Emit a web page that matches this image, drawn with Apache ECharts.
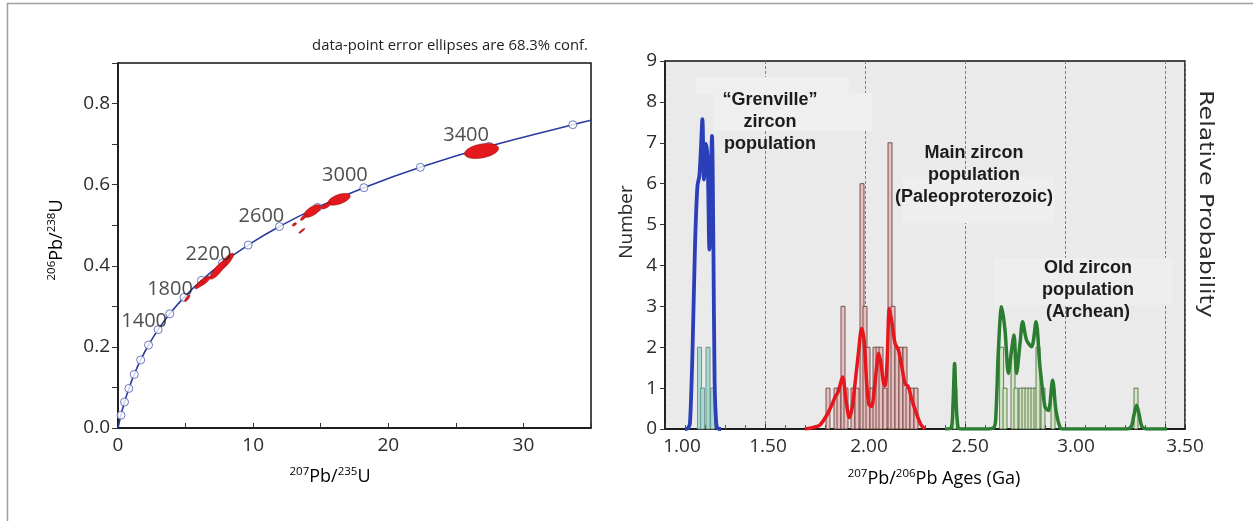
<!DOCTYPE html>
<html><head><meta charset="utf-8">
<script src="https://cdn.jsdelivr.net/npm/echarts@6/dist/echarts.min.js"></script>
<style>html,body{margin:0;padding:0;background:#fff}#c{width:1253px;height:521px}</style>
</head><body><div id="c"></div><script>
// ---------- Left panel: concordia diagram ----------
const concordiaAges = [0,200,400,600,800,1000,1200,1400,1600,1800,2000,2200,2400,2600,2800,3000,3200,3400,3600,3640];
const concordiaX = [0,0.2177,0.4828,0.8056,1.1989,1.6774,2.2603,2.9702,3.8347,4.8878,6.1683,7.7292,9.6300,11.945,14.764,18.196,22.374,27.459,33.651,35.0];
const concordiaY = [0,0.0315,0.0640,0.0975,0.1321,0.1678,0.2046,0.2426,0.2817,0.3221,0.3638,0.4068,0.4511,0.4968,0.5440,0.5926,0.6428,0.6945,0.7479,0.7587];
const labelledAges = [1400,1800,2200,2600,3000,3400];

// error ellipses: centre x, centre y, sigma x, sigma y, correlation
const ellipseX   = [26.9, 16.36, 15.4, 14.39, 13.75, 13.05, 13.6, 8.0, 7.4, 6.32, 6.0, 5.13];
const ellipseY   = [0.683, 0.564, 0.548, 0.535, 0.520, 0.502, 0.486, 0.410, 0.390, 0.361, 0.353, 0.320];
const ellipseSX  = [1.26, 0.82, 0.35, 0.63, 0.25, 0.15, 0.22, 0.55, 0.60, 0.50, 0.30, 0.20];
const ellipseSY  = [0.0185, 0.0145, 0.008, 0.0155, 0.008, 0.004, 0.006, 0.021, 0.023, 0.013, 0.010, 0.008];
const ellipseRho = [0.35, 0.55, 0.7, 0.65, 0.8, 0.5, 0.9, 0.85, 0.85, 0.8, 0.8, 0.8];

// ---------- Right panel: age histogram + probability curves ----------
const grenvilleBins = [1.1725, 1.188, 1.215, 1.238];
const grenvilleCounts = [2, 1, 2, 1];
const mainBins = [1.815,1.855,1.87,1.89,1.905,1.94,1.96,1.985,2.0,2.015,2.035,2.05,2.065,2.08,2.1,2.125,2.14,2.16,2.18,2.2,2.215,2.235,2.255];
const mainCounts = [1,1,1,3,1,1,1,6,3,2,1,2,2,2,1,7,3,2,2,2,1,1,1];
const oldBins = [2.449,2.683,2.70,2.74,2.755,2.78,2.795,2.81,2.825,2.84,2.855,2.865,2.89,2.94,3.355];
const oldCounts = [1,2,1,2,1,1,1,1,1,1,1,2,1,1,1];

const blueX = [1.10,1.115,1.125,1.138,1.15,1.162,1.172,1.18,1.187,1.195,1.205,1.213,1.222,1.228,1.235,1.242,1.248,1.256,1.265,1.28];
const blueY = [0,0.02,0.15,2.0,4.47,5.94,6.2,6.9,7.58,6.1,6.97,6.6,4.39,5.94,7.17,4.47,1.19,0.15,0.01,0];
const redX = [1.70,1.75,1.775,1.808,1.835,1.85,1.865,1.888,1.905,1.922,1.935,1.95,1.968,1.983,1.995,2.01,2.02,2.033,2.045,2.058,2.068,2.08,2.09,2.1,2.11,2.122,2.135,2.15,2.167,2.185,2.2,2.217,2.235,2.258,2.28,2.3];
const redY = [0,0.05,0.1,0.33,0.6,0.78,0.9,1.27,0.7,0.28,0.5,1.1,1.9,2.46,2.2,1.0,0.6,0.55,0.9,1.5,1.85,1.6,1.2,1.05,1.6,2.95,2.6,2.1,1.93,1.5,1.11,1.03,0.7,0.37,0.1,0];
const greenX = [2.40,2.43,2.44,2.448,2.456,2.466,2.48,2.60,2.645,2.655,2.667,2.683,2.70,2.717,2.733,2.745,2.758,2.775,2.788,2.808,2.833,2.855,2.875,2.9,2.917,2.938,2.955,2.975,2.99,3.30,3.33,3.345,3.358,3.371,3.386,3.42,3.51];
const greenY = [0,0.02,0.6,1.6,0.6,0.02,0,0,0.04,0.4,1.93,2.99,2.42,1.36,1.93,2.3,1.36,2.09,2.62,2.17,2.01,2.62,1.52,0.54,0.45,1.19,0.45,0.04,0,0,0.05,0.35,0.58,0.35,0.05,0,0];

const xTicksRight = [1.0, 1.5, 2.0, 2.5, 3.0, 3.5];

// label placement (style, not data)
const ageLabelOffsets = [[-14,-8],[-14,-8],[-14,-9],[-18,-10],[-19,-12],[-23,-11]];
const xLabelShiftPx = [17, 3, 4, 5, 11, 20];   // hand-placed tick labels in the original figure

// ---------- build ----------
const zip = (a, b) => a.map((v, i) => [v, b[i]]);
const concordia = zip(concordiaX, concordiaY);
const markers = concordia.filter((p, i) => concordiaAges[i] > 0 && concordiaAges[i] % 200 === 0);
const ageLabels = labelledAges.map((a, k) => {
  const i = concordiaAges.indexOf(a);
  return { value: [concordiaX[i], concordiaY[i]], name: String(a), label: { offset: ageLabelOffsets[k] } };
});
const ellipses = ellipseX.map((v, i) => [v, ellipseY[i], ellipseSX[i], ellipseSY[i], ellipseRho[i]]);

const TXT = '#2b2b2b';
const FONT = "'Open Sans', 'Noto Sans', sans-serif";
const BAR_W = 0.02;

const xLabelRich = {};
xLabelShiftPx.forEach((s, i) => { xLabelRich['p' + i] = { padding: [0, 0, 0, 2 * s], fontSize: 19, color: TXT, fontFamily: FONT }; });

function ellipseItem(params, api) {
  const cx = api.value(0), cy = api.value(1), sx = api.value(2), sy = api.value(3), r = api.value(4);
  const k = Math.sqrt(1 - r * r);
  const pts = [];
  for (let j = 0; j < 48; j++) {
    const t = j / 48 * Math.PI * 2;
    const c = Math.cos(t), s = Math.sin(t);
    pts.push(api.coord([cx + sx * c, cy + sy * (r * c + k * s)]));
  }
  return { type: 'polygon', shape: { points: pts }, style: { fill: '#e3191d', stroke: '#9a1010', lineWidth: 0.6 } };
}
function barItem(fill, stroke) {
  return function (params, api) {
    const x = api.value(0), n = api.value(1);
    const p0 = api.coord([x - BAR_W / 2, 0]);
    const p1 = api.coord([x + BAR_W / 2, n]);
    return { type: 'rect', shape: { x: p0[0], y: p1[1], width: p1[0] - p0[0], height: p0[1] - p1[1] },
      style: { fill: fill, stroke: stroke, lineWidth: 0.8 } };
  };
}
const supRich = {
  b: { fontSize: 18, fontFamily: FONT, color: TXT, lineHeight: 23 },
  s: { fontSize: 11.5, fontFamily: FONT, color: TXT, lineHeight: 13, verticalAlign: 'top' }
};
const annot = (x, y, lines) => lines.map((t, i) => ({
  type: 'text', x: x, y: y + i * 22, z: 50,
  style: { text: t, fontSize: 18, fontWeight: 'bold', fontFamily: "'Liberation Sans', Arial, sans-serif",
    fill: '#1c1c1c', align: 'center', verticalAlign: 'middle' }
}));

const chart = echarts.init(document.getElementById('c'), null, { renderer: 'canvas' });
chart.setOption({
  animation: false,
  backgroundColor: '#ffffff',
  grid: [
    { left: 118, top: 63, width: 473, height: 365, show: true, borderColor: '#111', borderWidth: 1.5, backgroundColor: '#fff' },
    { left: 665, top: 61, width: 520, height: 368, show: true, borderColor: '#111', borderWidth: 1.5, backgroundColor: '#eaeaea' }
  ],
  xAxis: [
    { gridIndex: 0, type: 'value', min: 0, max: 35, interval: 10,
      axisLine: { lineStyle: { color: '#111', width: 1.5 } },
      axisTick: { inside: true, length: 5, lineStyle: { color: '#333' } },
      minorTick: { show: true, splitNumber: 2, length: 5, lineStyle: { color: '#333' } },
      splitLine: { show: false },
      axisLabel: { fontSize: 19, color: TXT, fontFamily: FONT, margin: 8, showMaxLabel: false } },
    { gridIndex: 1, type: 'value', min: xTicksRight[0], max: 3.6, interval: 0.5,
      axisLine: { lineStyle: { color: '#111', width: 1.5 } },
      axisTick: { inside: true, length: 5, lineStyle: { color: '#333' } },
      minorTick: { show: true, splitNumber: 5, length: 4, lineStyle: { color: '#555' } },
      splitLine: { show: true, lineStyle: { color: '#808080', type: [3, 2], width: 1 } },
      axisLabel: { fontSize: 19, color: TXT, fontFamily: FONT, margin: 8, showMaxLabel: false,
        rich: xLabelRich,
        formatter: v => {
          const i = xTicksRight.findIndex(t => Math.abs(t - v) < 1e-6);
          return i < 0 ? '' : '{p' + i + '|' + v.toFixed(2) + '}';
        } } }
  ],
  yAxis: [
    { gridIndex: 0, type: 'value', min: 0, max: 0.9, interval: 0.2,
      axisLine: { show: true, lineStyle: { color: '#111', width: 1.5 } },
      axisTick: { show: true, inside: false, length: 6, lineStyle: { color: '#333' } },
      minorTick: { show: true, splitNumber: 2, length: 6, lineStyle: { color: '#333' } },
      splitLine: { show: false },
      axisLabel: { fontSize: 19, color: TXT, fontFamily: FONT, margin: 8, showMaxLabel: false, formatter: v => v.toFixed(1) } },
    { gridIndex: 1, type: 'value', min: 0, max: 9, interval: 1,
      axisLine: { show: true, lineStyle: { color: '#111', width: 1.5 } },
      axisTick: { show: true, inside: false, length: 5, lineStyle: { color: '#333' } },
      splitLine: { show: false },
      axisLabel: { fontSize: 19, color: TXT, fontFamily: FONT, margin: 8 } }
  ],
  series: [
    { type: 'line', xAxisIndex: 0, yAxisIndex: 0, data: concordia, smooth: 0.5, showSymbol: false, symbol: 'none',
      lineStyle: { color: '#2b3a9e', width: 1.6 }, z: 2, clip: true },
    { type: 'scatter', xAxisIndex: 0, yAxisIndex: 0, data: markers, symbol: 'circle', symbolSize: 8,
      itemStyle: { color: '#ffffff', borderColor: '#4a5ab0', borderWidth: 1 }, z: 3 },
    { type: 'custom', xAxisIndex: 0, yAxisIndex: 0, data: ellipses, renderItem: ellipseItem, z: 4 },
    { type: 'scatter', xAxisIndex: 0, yAxisIndex: 0, data: ageLabels, symbolSize: 0, z: 5,
      label: { show: true, position: 'inside', formatter: p => p.name,
        fontSize: 20, color: '#222', fontFamily: FONT } },

    { type: 'custom', xAxisIndex: 1, yAxisIndex: 1, data: zip(grenvilleBins, grenvilleCounts), renderItem: barItem('#a6dad2', '#61807b'), z: 2 },
    { type: 'custom', xAxisIndex: 1, yAxisIndex: 1, data: zip(mainBins, mainCounts), renderItem: barItem('#e8bfbf', '#5a3434'), z: 2 },
    { type: 'custom', xAxisIndex: 1, yAxisIndex: 1, data: zip(oldBins, oldCounts), renderItem: barItem('#d3e7c2', '#41613a'), z: 2 },
    { type: 'line', xAxisIndex: 1, yAxisIndex: 1, data: zip(blueX, blueY), smooth: 0.3, showSymbol: false, symbol: 'none',
      lineStyle: { color: '#2a3fb8', width: 3.8 }, z: 3 },
    { type: 'line', xAxisIndex: 1, yAxisIndex: 1, data: zip(redX, redY), smooth: 0.3, showSymbol: false, symbol: 'none',
      lineStyle: { color: '#e5171c', width: 3.5 }, z: 3 },
    { type: 'line', xAxisIndex: 1, yAxisIndex: 1, data: zip(greenX, greenY), smooth: 0.3, showSymbol: false, symbol: 'none',
      lineStyle: { color: '#2b7d31', width: 3.5 }, z: 3 }
  ],
  graphic: [
    { type: 'line', shape: { x1: 7, y1: 3.5, x2: 1253, y2: 3.5 }, style: { stroke: '#a0a0a0', lineWidth: 1.5 } },
    { type: 'line', shape: { x1: 7.5, y1: 3, x2: 7.5, y2: 521 }, style: { stroke: '#a0a0a0', lineWidth: 1.5 } },
    { type: 'text', x: 588, y: 46, scaleX: 1.06, style: { text: 'data-point error ellipses are 68.3% conf.', fontSize: 14,
      fontFamily: FONT, fill: '#222', align: 'right', verticalAlign: 'middle' } },
    { type: 'text', x: 57, y: 240, rotation: Math.PI / 2,
      style: { text: '{s|206}{b|Pb/}{s|238}{b|U}', rich: supRich, align: 'center', verticalAlign: 'middle' } },
    { type: 'text', x: 330, y: 477,
      style: { text: '{s|207}{b|Pb/}{s|235}{b|U}', rich: supRich, align: 'center', verticalAlign: 'middle' } },
    { type: 'text', x: 934, y: 479,
      style: { text: '{s|207}{b|Pb/}{s|206}{b|Pb Ages (Ga)}', rich: supRich, align: 'center', verticalAlign: 'middle' } },
    { type: 'text', x: 627, y: 222, rotation: Math.PI / 2,
      style: { text: 'Number', fontSize: 19, fontFamily: FONT, fill: TXT, align: 'center', verticalAlign: 'middle' } },
    { type: 'text', x: 1205, y: 204, rotation: -Math.PI / 2, scaleX: 1.18,
      style: { text: 'Relative Probability', fontSize: 20, fontFamily: "'DejaVu Sans', sans-serif", fill: TXT, align: 'center', verticalAlign: 'middle' } },
    { type: 'rect', z: 1, shape: { x: 696, y: 77, width: 153, height: 17 }, style: { fill: '#efefef' }, silent: true },
    { type: 'rect', z: 1, shape: { x: 714, y: 93, width: 158, height: 38 }, style: { fill: '#efefef' }, silent: true },
    { type: 'rect', z: 1, shape: { x: 903, y: 177, width: 152, height: 46 }, style: { fill: '#eeeeee' }, silent: true },
    { type: 'rect', z: 1, shape: { x: 994, y: 258, width: 178, height: 47 }, style: { fill: '#eeeeee' }, silent: true }
  ].concat(
    annot(770, 100, ['\u201cGrenville\u201d', 'zircon', 'population']),
    annot(974, 153, ['Main zircon', 'population', '(Paleoproterozoic)']),
    annot(1088, 268, ['Old zircon', 'population', '(Archean)'])
  )
});
</script></body></html>
